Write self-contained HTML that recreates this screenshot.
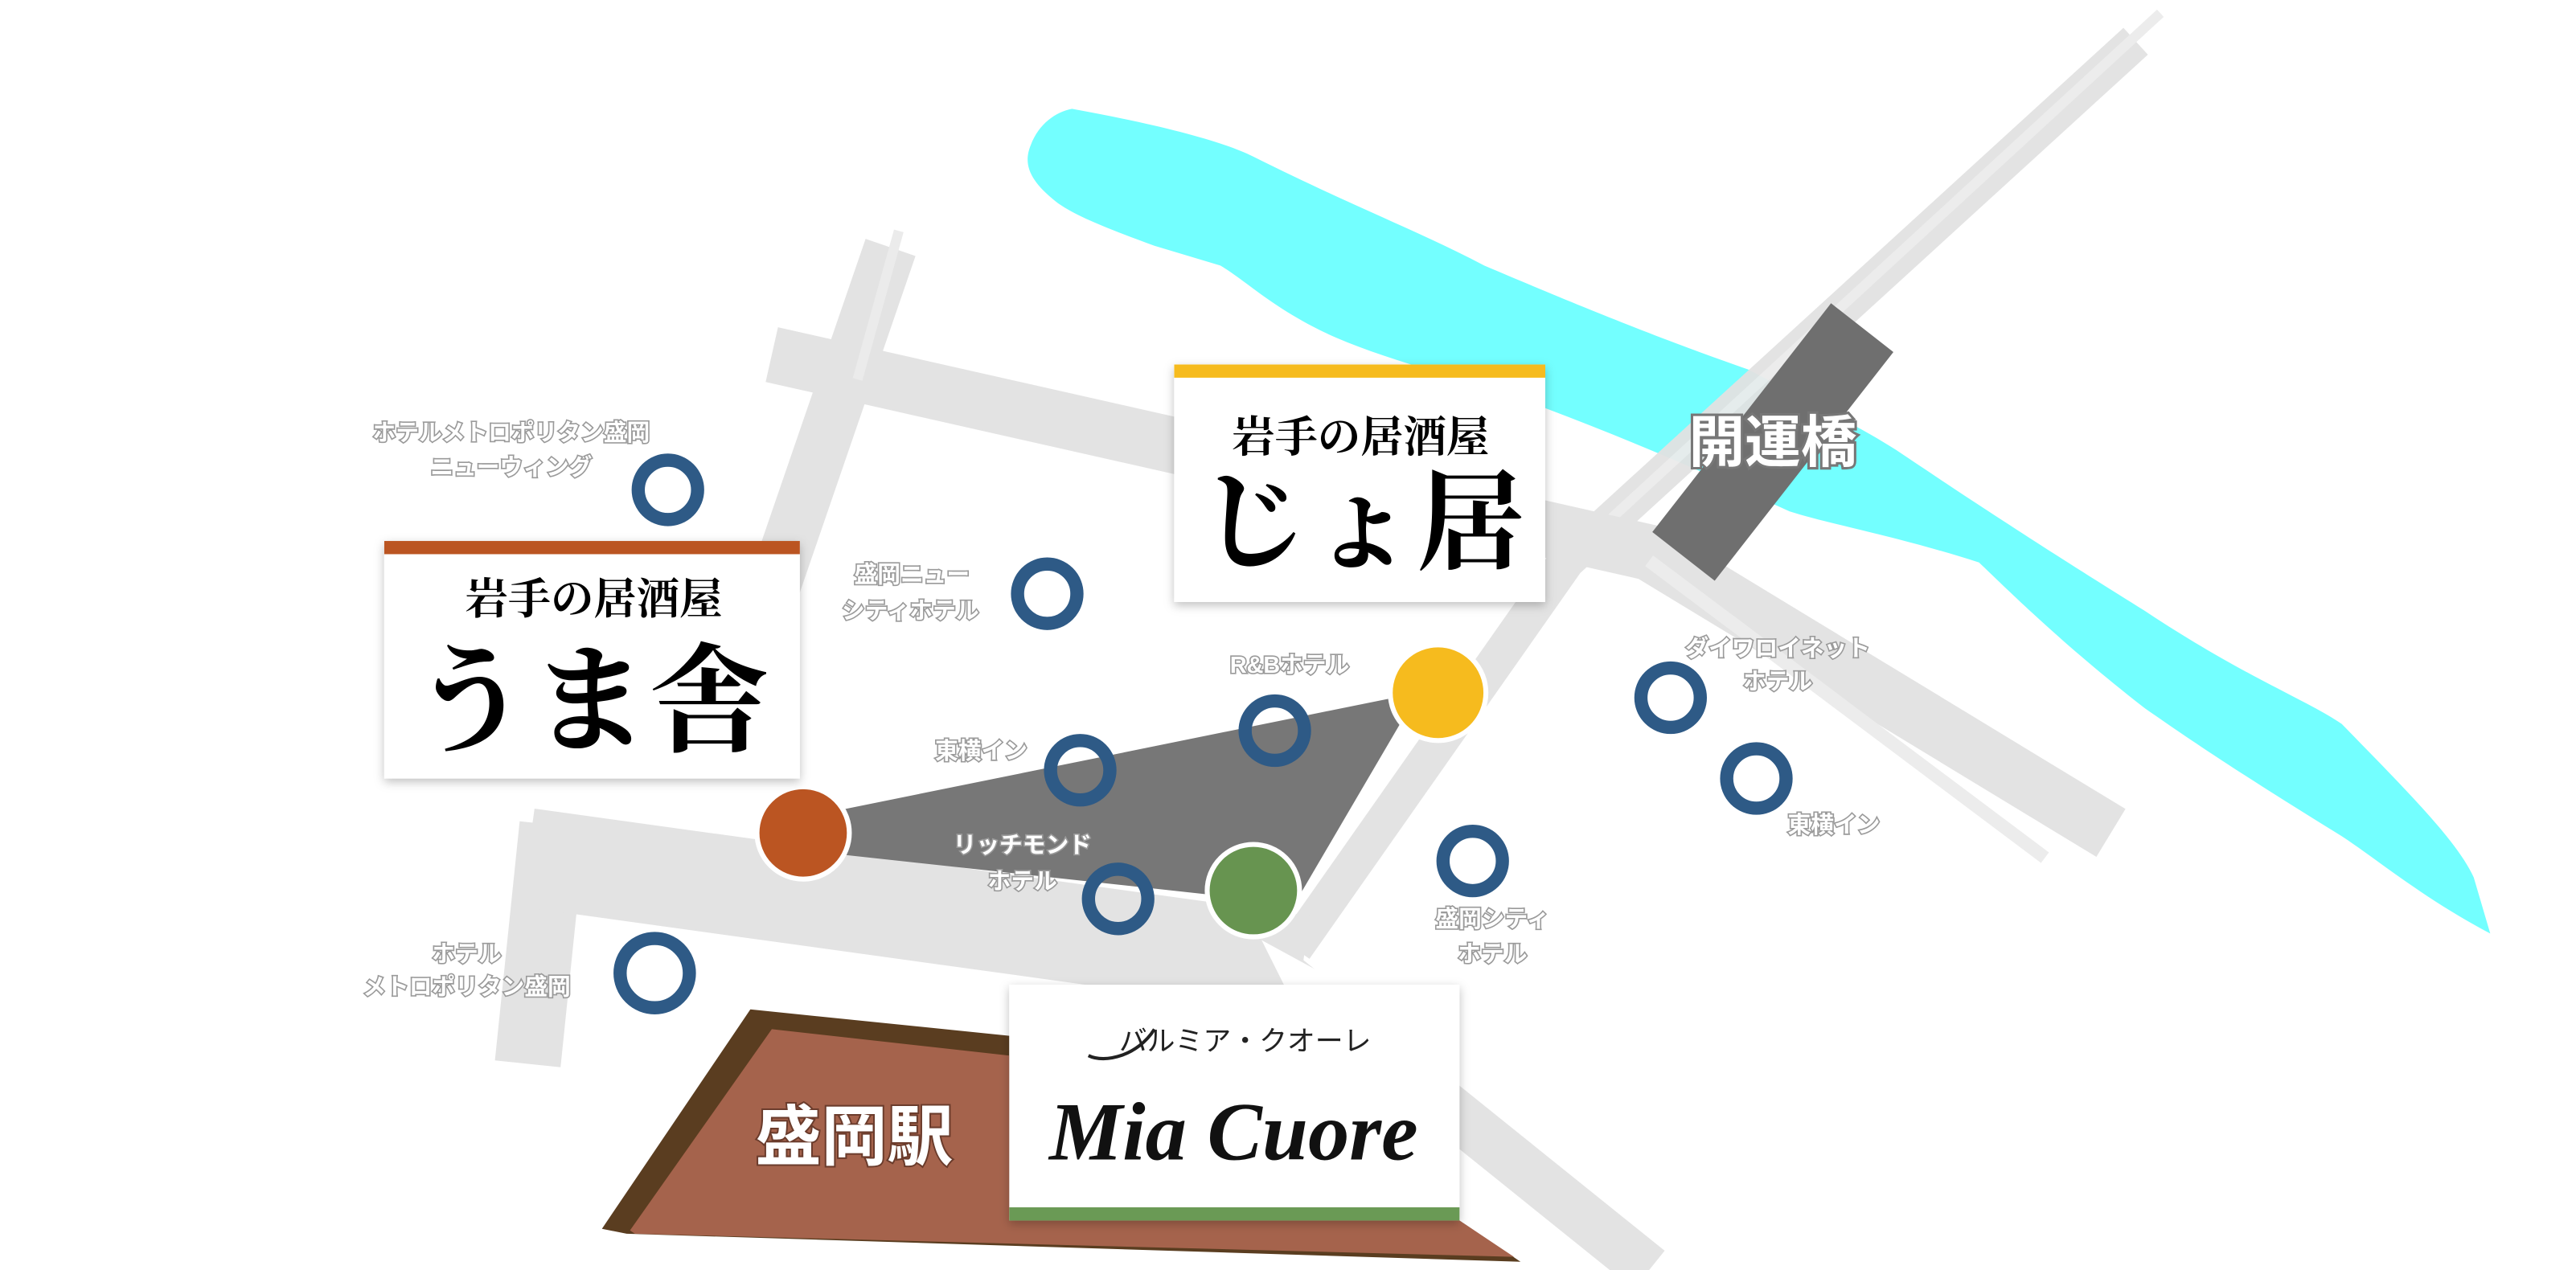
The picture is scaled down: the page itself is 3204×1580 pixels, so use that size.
<!DOCTYPE html>
<html><head><meta charset="utf-8"><style>
html,body{margin:0;padding:0;background:#fff;}
svg{display:block;}
.h{font-family:"Liberation Sans","Noto Sans CJK JP",sans-serif;font-weight:bold;font-size:14px;fill:#fff;stroke:#9a9a9a;stroke-width:1.6px;paint-order:stroke;text-anchor:middle;}
.k{font-family:"Liberation Serif","Noto Serif CJK SC","Noto Sans CJK JP",serif;font-weight:bold;fill:#000;text-anchor:middle;}
</style></head><body>
<svg width="3204" height="1580" viewBox="0 0 1562 770" preserveAspectRatio="none" xmlns="http://www.w3.org/2000/svg">
<defs><filter id="sh" x="-10%" y="-10%" width="120%" height="130%"><feDropShadow dx="0" dy="2" stdDeviation="3" flood-color="#000" flood-opacity="0.25"/></filter></defs>
<!-- river -->
<path d="M650,66 C700,75 740,85 760,95 C820,125 860,140 900,161 C980,195 1020,210 1060,224 C1100,245 1130,260 1150,273 C1220,320 1260,345 1300,370 C1360,410 1400,425 1420,439 C1460,480 1490,510 1500,532 L1510,566 C1470,545 1440,520 1420,507 C1360,470 1330,450 1300,429 C1250,390 1220,360 1200,341 C1150,325 1110,318 1085,310 C1020,280 960,255 900,234 C850,220 820,210 800,200 C770,185 755,170 740,161 L700,149 C670,138 650,130 640,122 C625,110 620,100 625,88 C630,75 640,68 650,66 Z" fill="#73ffff"/>
<!-- roads -->
<g fill="none" stroke="#e2e2e2" stroke-linecap="butt" opacity="0.95">
<path d="M1295,25 L950,340 L785,575" stroke-width="22"/>
<path d="M1310,8 L960,330" stroke="#ececec" stroke-width="6"/>
<path d="M468,215 L1000,335 L1280,505" stroke-width="34"/>
<path d="M540,150 L430,470" stroke-width="32"/>
<path d="M545,140 L520,230" stroke="#eaeaea" stroke-width="6"/>
<path d="M335,500 L320,645" stroke-width="40"/>
<path d="M320,520 L790,585" stroke-width="60"/>
<path d="M770,585 L1000,770" stroke-width="30"/>
<path d="M1000,340 L1240,520" stroke="#ececec" stroke-width="8"/>
</g>
<!-- route -->
<polygon points="500,493 860,420 785,548 500,517" fill="#777"/>
<!-- station -->
<polygon points="365,745 455,612 612,628 612,740 885,740 922,765 380,748" fill="#5a3d20"/>
<polygon points="382,746 468,624 612,640 612,740 885,740 918,762 385,748" fill="#a5634c"/>
<text x="518" y="703" font-family="Liberation Sans,Noto Sans CJK JP,sans-serif" font-weight="bold" font-size="40" fill="#fff" stroke="#6b3c2c" stroke-width="2" paint-order="stroke" text-anchor="middle">盛岡駅</text>
<!-- bridge -->
<g transform="translate(1075,268) rotate(38)"><rect x="-24" y="-88" width="48" height="176" fill="#6f6f6f"/></g>
<text x="1075" y="280" class="h" style="font-size:34px;stroke-width:3px;stroke:#777">開運橋</text>
<!-- callout tails -->
<polygon points="405,470 450,470 475,505" fill="#fff"/>
<polygon points="820,363 850,363 858,398" fill="#fff"/>
<polygon points="765,570 780,600 820,600" fill="#fff"/>
<!-- markers -->
<circle cx="487" cy="505" r="28" fill="#bb5522" stroke="#fff" stroke-width="3"/>
<circle cx="872" cy="420" r="29" fill="#f6bb1e" stroke="#fff" stroke-width="3"/>
<circle cx="760" cy="540" r="28" fill="#679450" stroke="#fff" stroke-width="3"/>
<!-- hotels -->
<g fill="none" stroke="#2e5a86" stroke-width="8">
<circle cx="405" cy="297" r="18"/><circle cx="635" cy="360" r="18"/><circle cx="773" cy="443" r="18"/>
<circle cx="655" cy="467" r="18"/><circle cx="678" cy="545" r="18"/><circle cx="1013" cy="423" r="18"/>
<circle cx="1065" cy="472" r="18"/><circle cx="893" cy="522" r="18"/><circle cx="397" cy="590" r="21"/>
</g>
<text class="h" x="310" y="267">ホテルメトロポリタン盛岡</text>
<text class="h" x="310" y="288">ニューウィング</text>
<text class="h" x="553" y="353">盛岡ニュー</text>
<text class="h" x="552" y="375">シティホテル</text>
<text class="h" x="782" y="408">R&amp;Bホテル</text>
<text class="h" x="595" y="460">東横イン</text>
<text class="h" x="620" y="517">リッチモンド</text>
<text class="h" x="620" y="539">ホテル</text>
<text class="h" x="1078" y="398">ダイワロイネット</text>
<text class="h" x="1078" y="418">ホテル</text>
<text class="h" x="1112" y="505">東横イン</text>
<text class="h" x="905" y="562">盛岡シティ</text>
<text class="h" x="905" y="583">ホテル</text>
<text class="h" x="283" y="583">ホテル</text>
<text class="h" x="283" y="603">メトロポリタン盛岡</text>
<!-- boxes -->
<rect x="233" y="328" width="252" height="144" fill="#fff" filter="url(#sh)"/>
<rect x="233" y="328" width="252" height="8" fill="#bb5522"/>
<text class="k" x="360" y="372" font-size="26">岩手の居酒屋</text>
<text class="k" x="358" y="450" font-size="72">うま舎</text>
<rect x="712" y="221" width="225" height="144" fill="#fff" filter="url(#sh)"/>
<rect x="712" y="221" width="225" height="8" fill="#f6bb1e"/>
<text class="k" x="825" y="274" font-size="26">岩手の居酒屋</text>
<text class="k" x="826" y="340" font-size="66">じょ居</text>
<rect x="612" y="597" width="273" height="143" fill="#fff" filter="url(#sh)"/>
<rect x="612" y="732" width="273" height="8" fill="#6a9a55"/>
<path d="M700,624 C690,640 670,645 660,640" fill="none" stroke="#222" stroke-width="2"/>
<text x="755" y="637" font-family="Liberation Sans,Noto Sans CJK JP,sans-serif" font-size="17" fill="#222" text-anchor="middle">バルミア・クオーレ</text>
<text x="748" y="703" font-family="Liberation Serif,serif" font-style="italic" font-weight="bold" font-size="50" fill="#111" text-anchor="middle">Mia Cuore</text>
</svg>
</body></html>
